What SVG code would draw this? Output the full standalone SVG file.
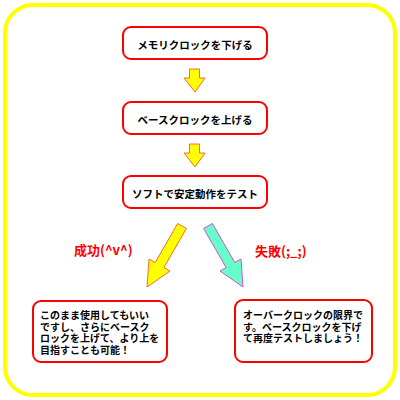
<svg xmlns="http://www.w3.org/2000/svg" width="400" height="400" viewBox="0 0 400 400">
<style>
.box{fill:#fff;stroke:#ff0000;stroke-width:2}
.t{font-family:"Noto Sans CJK JP","Noto Sans",sans-serif;font-weight:bold;font-size:10.5px;fill:#000}
.s{font-size:10px}
.c{text-anchor:middle}
.lbl{font-family:"Noto Sans CJK JP","Noto Sans",sans-serif;font-weight:bold;font-size:13px;fill:#ff0000}
.ya{fill:#ffff00;stroke:#ff6633;stroke-width:1}
.ca{fill:#66ffcc;stroke:#cc55cc;stroke-width:1}
</style>
<rect x="5" y="5" width="390" height="390" rx="28" fill="#fff" stroke="#ffff00" stroke-width="4"/>
<g id="connectors">
<polygon class="ya" points="189.5,69 199.5,69 199.5,78 205,78 195,92 184,78 189.5,78"/>
<polygon class="ya" points="189.5,144 199.5,144 199.5,153 205,153 195,167 184,153 189.5,153"/>
<polygon class="ya" points="177.6,223.5 186.4,228.5 163.9,267.5 170,271 147,287 149,259 155.2,262.5"/>
<polygon class="ca" points="212.4,223.5 203.6,228.5 226.1,267.5 220,271 243,287 241,259 234.8,262.5"/>
<text class="lbl" x="74" y="255">成功(^v^)</text>
<text class="lbl" x="255" y="256">失敗(;_;)</text>
</g>
<g id="node1">
<rect class="box" x="123" y="27" width="144" height="32" rx="8"/>
<text class="t c" x="195" y="49">メモリクロックを下げる</text>
</g>
<g id="node2">
<rect class="box" x="123" y="102" width="144" height="32" rx="8"/>
<text class="t c" x="195" y="124">ベースクロックを上げる</text>
</g>
<g id="node3">
<rect class="box" x="123" y="176" width="144" height="32" rx="8"/>
<text class="t c" x="195" y="198">ソフトで安定動作をテスト</text>
</g>
<g id="node4">
<rect class="box" x="33" y="301" width="134" height="61" rx="8"/>
<text class="t s"><tspan x="40" y="319">このまま使用してもいい</tspan><tspan x="40" y="330.5">ですし、さらにベースク</tspan><tspan x="40" y="342">ロックを上げて、より上を</tspan><tspan x="40" y="353.5">目指すことも可能！</tspan></text>
</g>
<g id="node5">
<rect class="box" x="235" y="300" width="137" height="62" rx="8"/>
<text class="t s"><tspan x="243" y="319">オーバークロックの限界で</tspan><tspan x="243" y="330.5">す。ベースクロックを下げ</tspan><tspan x="243" y="342">て再度テストしましょう！</tspan></text>
</g>
</svg>
